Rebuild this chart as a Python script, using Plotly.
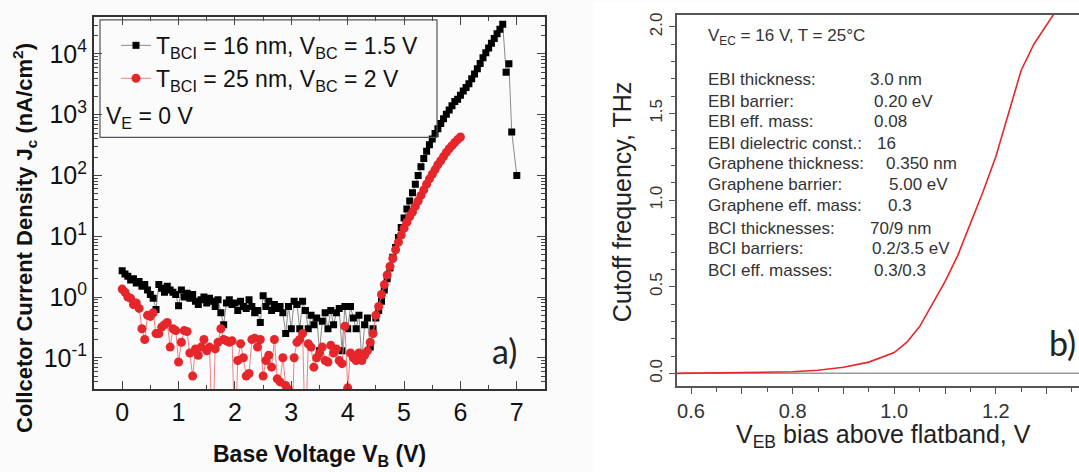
import plotly.graph_objects as go

# ---------------- Panel a data ----------------
black_x = [0.00, 0.05, 0.10, 0.15, 0.20, 0.25, 0.30, 0.35, 0.40, 0.45,
           0.50, 0.55, 0.60, 0.65, 0.70, 0.75, 0.80, 0.85, 0.90, 0.95,
           1.00, 1.05, 1.10, 1.15, 1.20, 1.25, 1.30, 1.35, 1.40, 1.45,
           1.50, 1.55, 1.60, 1.65, 1.70, 1.75, 1.80, 1.85, 1.90, 1.95,
           2.00, 2.05, 2.10, 2.15, 2.20, 2.25, 2.30, 2.35, 2.40, 2.45,
           2.50, 2.55, 2.60, 2.65, 2.70, 2.75, 2.80, 2.85, 2.90, 2.95,
           3.00, 3.05, 3.10, 3.15, 3.20, 3.25, 3.30, 3.35, 3.40, 3.45,
           3.50, 3.55, 3.60, 3.65, 3.70, 3.75, 3.80, 3.85, 3.90, 3.95,
           4.00, 4.05, 4.10, 4.15, 4.20, 4.25, 4.30, 4.35, 4.40, 4.45,
           4.50, 4.55, 4.60, 4.65, 4.70, 4.75, 4.80, 4.85, 4.90, 4.95,
           5.00, 5.05, 5.10, 5.15, 5.20, 5.25, 5.30, 5.35, 5.40, 5.45,
           5.50, 5.55, 5.60, 5.65, 5.70, 5.75, 5.80, 5.85, 5.90, 5.95,
           6.00, 6.05, 6.10, 6.15, 6.20, 6.25, 6.30, 6.35, 6.40, 6.45,
           6.50, 6.55, 6.60, 6.65, 6.70, 6.75, 6.81, 6.86, 6.91, 7.00]
black_y = [2.7, 2.4, 2.2, 1.9, 2.0, 1.7, 1.8, 1.5, 1.6, 1.3,
           1.1, 0.95, 0.62, 1.6, 1.4, 1.2, 1.5, 1.3, 1.2, 1.1,
           0.72, 1.3, 1.0, 1.15, 0.95, 1.1, 0.85, 0.75, 0.9, 1.0,
           0.8, 0.95, 0.85, 0.7, 0.9, 0.55, 0.35, 0.8, 0.9, 0.75,
           0.8, 0.6, 0.85, 0.7, 0.65, 0.9, 0.7, 0.55, 0.6, 0.38,
           1.05, 0.7, 0.85, 0.6, 0.75, 0.65, 0.7, 0.55, 0.25, 0.7,
           0.3, 0.85, 0.75, 0.3, 0.85, 0.6, 0.3, 0.5, 0.35, 0.45,
           0.13, 0.4, 0.55, 0.3, 0.6, 0.35, 0.55, 0.65, 0.13, 0.7,
           0.3, 0.7, 0.45, 0.3, 0.5, 0.09, 0.35, 0.45, 0.15, 0.3,
           0.45, 0.6, 0.85, 1.3, 2.0, 3.0, 4.5, 6.5, 9.5, 14,
           20, 28, 38, 52, 72, 100, 140, 190, 250, 320,
           400, 490, 590, 720, 860, 1020, 1200, 1400, 1650, 1800,
           2100, 2450, 2800, 3250, 3900, 4700, 5700, 7000, 8700, 10500,
           12500, 15000, 18000, 21500, 25500, 31000, 5000, 6900, 520, 100]

red_x = [0.00, 0.05, 0.10, 0.15, 0.20, 0.25, 0.30, 0.35, 0.40, 0.45,
         0.50, 0.55, 0.60, 0.65, 0.70, 0.75, 0.80, 0.85, 0.90, 0.95,
         1.00, 1.05, 1.10, 1.15, 1.20, 1.25, 1.30, 1.35, 1.40, 1.45,
         1.50, 1.55, 1.60, 1.65, 1.70, 1.75, 1.80, 1.85, 1.90, 1.95,
         2.00, 2.05, 2.10, 2.15, 2.20, 2.25, 2.30, 2.35, 2.40, 2.45,
         2.50, 2.55, 2.60, 2.65, 2.70, 2.75, 2.80, 2.85, 2.90, 2.95,
         3.00, 3.05, 3.10, 3.15, 3.20, 3.25, 3.30, 3.35, 3.40, 3.45,
         3.50, 3.55, 3.60, 3.65, 3.70, 3.75, 3.80, 3.85, 3.90, 3.95,
         4.00, 4.05, 4.10, 4.15, 4.20, 4.25, 4.30, 4.35, 4.40, 4.45,
         4.50, 4.55, 4.60, 4.65, 4.70, 4.75, 4.80, 4.85, 4.90, 4.95,
         5.00, 5.05, 5.10, 5.15, 5.20, 5.25, 5.30, 5.35, 5.40, 5.45,
         5.50, 5.55, 5.60, 5.65, 5.70, 5.75, 5.80, 5.85, 5.90, 5.95,
         6.00]
red_y = [1.35, 1.2, 1.0, 0.95, 0.75, 0.8, 0.65, 0.3, 0.2, 0.5,
         0.48, 0.55, 0.25, 0.25, 0.32, 0.35, 0.38, 0.15, 0.3, 0.28,
         0.085, 0.18, 0.28, 0.27, 0.12, 0.05, 0.14, 0.11, 0.15, 0.2,
         0.13, 0.15, 0.004, 0.14, 0.18, 0.3, 0.2, 0.19, 0.18, 0.19,
         0.004, 0.09, 0.17, 0.1, 0.05, 0.055, 0.2, 0.21, 0.15, 0.2,
         0.05, 0.09, 0.11, 0.07, 0.2, 0.045, 0.04, 0.1, 0.035, 0.03,
         0.004, 0.1, 0.18, 0.2, 0.25, 0.004, 0.17, 0.15, 0.07, 0.1,
         0.12, 0.15, 0.09, 0.085, 0.16, 0.12, 0.14, 0.09, 0.08, 0.33,
         0.032, 0.12, 0.1, 0.09, 0.12, 0.09, 0.11, 0.13, 0.18, 0.25,
         0.5, 0.7, 1.1, 1.6, 2.3, 3.2, 4.3, 6.0, 8.0, 10.5,
         13.5, 17, 21, 25, 31, 38, 47, 58, 72, 88,
         105, 125, 150, 175, 205, 240, 275, 310, 350, 390,
         430]

a_xticks = [0, 1, 2, 3, 4, 5, 6, 7]
a_xminor = [0.5, 1.5, 2.5, 3.5, 4.5, 5.5, 6.5]
a_yticks = [0.1, 1, 10, 100, 1000, 10000]
a_yticktext = ["10<sup>-1</sup>", "10<sup>0</sup>", "10<sup>1</sup>",
               "10<sup>2</sup>", "10<sup>3</sup>", "10<sup>4</sup>"]
a_yminor = [0.04, 0.05, 0.06, 0.07, 0.08, 0.09,
            0.2, 0.3, 0.4, 0.5, 0.6, 0.7, 0.8, 0.9,
            2, 3, 4, 5, 6, 7, 8, 9,
            20, 30, 40, 50, 60, 70, 80, 90,
            200, 300, 400, 500, 600, 700, 800, 900,
            2000, 3000, 4000, 5000, 6000, 7000, 8000, 9000,
            20000, 30000, 40000]

# ---------------- Panel b data ----------------
fb_x = [0.572, 0.60, 0.65, 0.70, 0.75, 0.80, 0.85, 0.90, 0.95, 1.00,
        1.025, 1.05, 1.075, 1.10, 1.125, 1.15, 1.175, 1.20, 1.225, 1.25,
        1.275, 1.30, 1.32]
fb_y = [0.000, 0.001, 0.002, 0.003, 0.005, 0.009, 0.018, 0.035, 0.065, 0.12,
        0.18, 0.27, 0.40, 0.53, 0.68, 0.86, 1.05, 1.25, 1.50, 1.75,
        1.90, 2.01, 2.10]

b_xticks = [0.6, 0.7, 0.8, 0.9, 1.0, 1.1, 1.2, 1.3]
b_xticktext = ["0.6", "", "0.8", "", "1.0", "", "1.2", ""]
b_xminor = [0.65, 0.75, 0.85, 0.95, 1.05, 1.15, 1.25, 1.35]
b_yticks = [0.0, 0.5, 1.0, 1.5, 2.0]
b_yticktext = ["0.0", "0.5", "1.0", "1.5", "2.0"]
b_yminor = [0.1, 0.2, 0.3, 0.4, 0.6, 0.7, 0.8, 0.9,
            1.1, 1.2, 1.3, 1.4, 1.6, 1.7, 1.8, 1.9]

params_keys = ["EBI thickness:", "EBI barrier:", "EBI eff. mass:",
               "EBI dielectric const.:", "Graphene thickness:",
               "Graphene barrier:", "Graphene eff. mass:",
               "BCI thicknesses:", "BCI barriers:", "BCI eff. masses:"]
params_vals = ["3.0 nm", "0.20 eV", "0.08", "16", "0.350 nm",
               "5.00 eV", "0.3", "70/9 nm", "0.2/3.5 eV", "0.3/0.3"]

# ---------------- layout helpers ----------------
W, H = 1079, 472
def px(x):
    return x / W
def py(y):
    return 1 - y / H

FA = "Liberation Sans, Arial, sans-serif"

fig = go.Figure()

fig.add_trace(go.Scatter(
    x=black_x, y=black_y, mode="lines+markers", xaxis="x", yaxis="y",
    name="T<sub>BCI</sub> = 16 nm, V<sub>BC</sub> = 1.5 V",
    line=dict(color="#8a8a8a", width=1),
    marker=dict(symbol="square", size=7, color="#000000")))
fig.add_trace(go.Scatter(
    x=red_x, y=red_y, mode="lines+markers", xaxis="x", yaxis="y",
    name="T<sub>BCI</sub> = 25 nm, V<sub>BC</sub> = 2 V",
    line=dict(color="#f08080", width=1),
    marker=dict(symbol="circle", size=9, color="#e5262a")))

fig.add_trace(go.Scatter(
    x=fb_x, y=fb_y, mode="lines", xaxis="x2", yaxis="y2",
    line=dict(color="#e8262a", width=1.6), showlegend=False))

axis_a = dict(showline=True, linewidth=2, linecolor="#333333",
              mirror="allticks", ticks="inside", tickwidth=1.3,
              tickcolor="#444444", showgrid=False, zeroline=False)


def ann(x, y, text, size, family=FA, color="#222222", xanchor="center",
        angle=0):
    return dict(x=px(x), y=py(y), xref="paper", yref="paper",
                xanchor=xanchor, yanchor="middle", textangle=angle,
                text=text, showarrow=False,
                font=dict(family=family, size=size, color=color))


TB = 17  # text block font size in panel b
annotations = [
    ann(25, 237, "<b>Collcetor Current Density J<sub>c</sub> (nA/cm<sup>2</sup>)</b>",
        22, color="#111111", angle=-90),
    ann(319, 455, "<b>Base Voltage V<sub>B</sub> (V)</b>", 23, color="#111111"),
    ann(104, 116, "V<sub>E</sub> = 0 V", 23, color="#111111", xanchor="left"),
    ann(519, 350, "a)", 34, family="Lato, sans-serif", xanchor="right"),
    ann(622, 201, "Cutoff frequency, THz", 25, angle=-90),
    ann(883, 436, "V<sub>EB</sub> bias above flatband, V", 25),
    ann(1078, 342, "b)", 34, family="Lato, sans-serif", xanchor="right"),
    ann(706, 35, "V<sub>EC</sub> = 16 V, T = 25°C", TB, color="#333333",
        xanchor="left"),
]
row_y = [78, 100, 120, 142, 162, 183, 204, 227, 248, 270]
val_x = [868, 872, 872, 875, 884, 887, 886, 868, 870, 872]
for k, v, yy, vx in zip(params_keys, params_vals, row_y, val_x):
    annotations.append(ann(706, yy, k, TB, color="#333333", xanchor="left"))
    annotations.append(ann(vx, yy, v, TB, color="#333333", xanchor="left"))

shapes = [
    dict(type="rect", xref="paper", yref="paper", x0=px(593), x1=1, y0=0, y1=1,
         fillcolor="#ffffff", line=dict(width=0), layer="below"),
    dict(type="rect", xref="paper", yref="paper", x0=px(100), x1=px(437),
         y0=py(136), y1=py(18), line=dict(color="#555555", width=1.2),
         fillcolor="rgba(0,0,0,0)"),
    dict(type="line", xref="x2 domain", yref="y2", x0=0, x1=1, y0=0, y1=0,
         line=dict(color="#9a9a9a", width=1.5), layer="below"),
]

fig.update_layout(
    width=W, height=H,
    margin=dict(l=0, r=0, t=0, b=0),
    paper_bgcolor="#fbfbfb", plot_bgcolor="rgba(0,0,0,0)",
    font=dict(family=FA, color="#111111"),
    showlegend=True,
    legend=dict(x=px(116), y=py(22), xanchor="left", yanchor="top",
                bgcolor="rgba(0,0,0,0)", borderwidth=0,
                font=dict(family=FA, size=23, color="#111111"),
                tracegroupgap=0, itemwidth=30),
    xaxis=dict(domain=[px(94), px(545)], range=[-0.5, 7.5], anchor="y",
               tickvals=a_xticks, ticklen=8,
               tickfont=dict(family=FA, size=25, color="#111111"),
               minor=dict(tickvals=a_xminor, ticks="inside", ticklen=4,
                          tickcolor="#444444", showgrid=False),
               **axis_a),
    yaxis=dict(domain=[py(389), py(15)], type="log", range=[-1.52, 4.61],
               anchor="x", tickvals=a_yticks, ticktext=a_yticktext, ticklen=8,
               tickfont=dict(family=FA, size=25, color="#111111"),
               minor=dict(tickvals=a_yminor, ticks="inside", ticklen=4,
                          tickcolor="#444444", showgrid=False),
               **axis_a),
    xaxis2=dict(domain=[px(677), 1.0], range=[0.5724, 1.3638], anchor="y2",
                showline=True, linewidth=1.5, linecolor="#555555", mirror=True,
                ticks="outside", ticklen=6, tickcolor="#555555",
                tickvals=b_xticks, ticktext=b_xticktext,
                tickfont=dict(family=FA, size=20, color="#333333"),
                minor=dict(tickvals=b_xminor, ticks="outside", ticklen=4,
                           tickcolor="#555555", showgrid=False),
                showgrid=False, zeroline=False),
    yaxis2=dict(domain=[py(386), py(13)], range=[-0.075, 2.069], anchor="x2",
                showline=True, linewidth=1.5, linecolor="#555555",
                ticks="outside", ticklen=6, tickcolor="#555555",
                tickvals=b_yticks, ticktext=b_yticktext, tickangle=-90,
                tickfont=dict(family=FA, size=17, color="#333333"),
                minor=dict(tickvals=b_yminor, ticks="outside", ticklen=4,
                           tickcolor="#555555", showgrid=False),
                showgrid=False, zeroline=False),
    annotations=annotations,
    shapes=shapes,
)

fig.write_html("out.html",
               config={"displayModeBar": False},
               post_script="document.body.style.margin='0';"
                           "document.body.style.padding='0';")
